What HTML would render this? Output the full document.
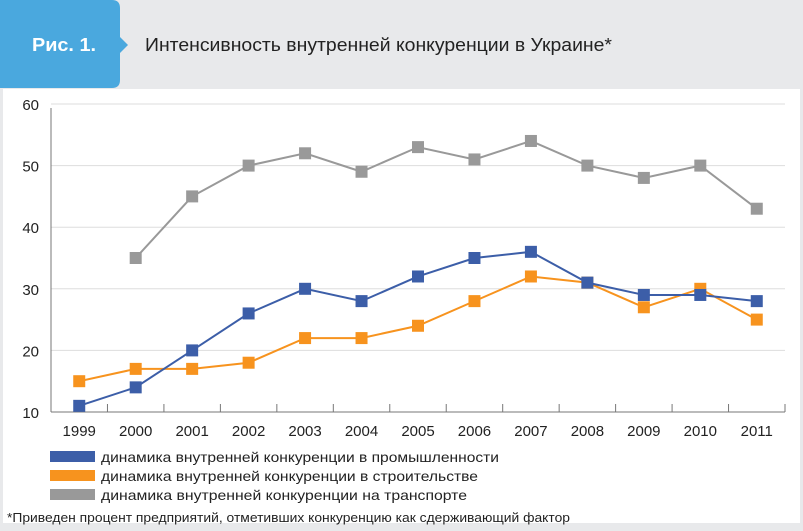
<!DOCTYPE html>
<html><head><meta charset="utf-8"><style>
body{margin:0;background:#fff}
svg{display:block;font-family:"Liberation Sans",sans-serif}
</style></head><body>
<svg id="c" width="803" height="531" viewBox="0 0 803 531">
<rect x="0" y="0" width="803" height="531" fill="#e8e9eb"/>
<rect x="3" y="89" width="797" height="434" fill="#fff"/>
<path d="M0 0 H112 Q120 0 120 8 V37 L128 45 L120 53 V80 Q120 88 112 88 H0 Z" fill="#4aa8de"/>
<text x="32" y="51" font-size="18" font-weight="bold" fill="#fff" textLength="64" lengthAdjust="spacingAndGlyphs">Рис. 1.</text>
<text x="145" y="51" font-size="18" fill="#222" textLength="467" lengthAdjust="spacingAndGlyphs">Интенсивность внутренней конкуренции в Украине*</text>
<g id="grid"></g><g id="axes"></g><g id="series"></g>
<g>
<rect x="50" y="451" width="45" height="11" fill="#3c5ea8"/>
<text x="101" y="462" font-size="14" fill="#222" textLength="398" lengthAdjust="spacingAndGlyphs">динамика внутренней конкуренции в промышленности</text>
<rect x="50" y="470" width="45" height="11" fill="#f7931e"/>
<text x="101" y="481" font-size="14" fill="#222" textLength="377" lengthAdjust="spacingAndGlyphs">динамика внутренней конкуренции в строительстве</text>
<rect x="50" y="489" width="45" height="11" fill="#999"/>
<text x="101" y="500" font-size="14" fill="#222" textLength="366" lengthAdjust="spacingAndGlyphs">динамика внутренней конкуренции на транспорте</text>
</g>
<text x="7" y="522" font-size="13" fill="#222" textLength="563" lengthAdjust="spacingAndGlyphs">*Приведен процент предприятий, отметивших конкуренцию как сдерживающий фактор</text>
</svg>
<script>
const categories=["1999","2000","2001","2002","2003","2004","2005","2006","2007","2008","2009","2010","2011"];
const yTicks=[10,20,30,40,50,60];
const industry=[11,14,20,26,30,28,32,35,36,31,29,29,28];
const construction=[15,17,17,18,22,22,24,28,32,31,27,30,25];
const transport=[null,35,45,50,52,49,53,51,54,50,48,50,43];
const NS="http://www.w3.org/2000/svg";
const X0=51,X1=785,Y0=412,Y1=104;
const step=(X1-X0)/categories.length;
const x=i=>X0+step*(i+0.5);
const y=v=>Y0-(v-10)/50*(Y0-Y1);
function mk(t,a,p){const e=document.createElementNS(NS,t);for(const k in a)e.setAttribute(k,a[k]);p.appendChild(e);return e;}
const grid=document.getElementById('grid'),axes=document.getElementById('axes'),ser=document.getElementById('series');
yTicks.forEach(v=>{
  if(v>10){const l=mk('line',{x1:X0,x2:X1,y1:y(v),y2:y(v),stroke:'#ddd','stroke-width':1},grid);
  
  }
  const t=mk('text',{x:X0-12,y:y(v)+6,'font-size':15,fill:'#222','text-anchor':'end'},axes);t.textContent=v;
  
  
});
let a=mk('line',{x1:X0,x2:X0,y1:Y1+4,y2:Y0,stroke:'#777','stroke-width':1},axes);


a=mk('line',{x1:X0,x2:X1,y1:Y0,y2:Y0,stroke:'#777','stroke-width':1},axes);


categories.forEach((c,i)=>{
  const tk=mk('line',{x1:X0+step*(i+1),x2:X0+step*(i+1),y1:Y0-8,y2:Y0,stroke:'#777'},axes);
  
  
  const t=mk('text',{x:x(i),y:Y0+24,'font-size':15,fill:'#222','text-anchor':'middle'},axes);t.textContent=c;
  
  
});
function draw(vals,color,name){
  const g=mk('g',{},ser);
  
  
  let d='';vals.forEach((v,i)=>{if(v==null)return;d+=(d?'L':'M')+x(i)+' '+y(v);});
  const p=mk('path',{d:d,fill:'none',stroke:color,'stroke-width':2},g);
  
  
  vals.forEach((v,i)=>{if(v==null)return;
    const r=mk('rect',{x:x(i)-6,y:y(v)-6,width:12,height:12,fill:color},g);
    
    });
}
draw(transport,'#999999','transport');
draw(construction,'#f7931e','construction');
draw(industry,'#3c5ea8','industry');
</script>
</body></html>
